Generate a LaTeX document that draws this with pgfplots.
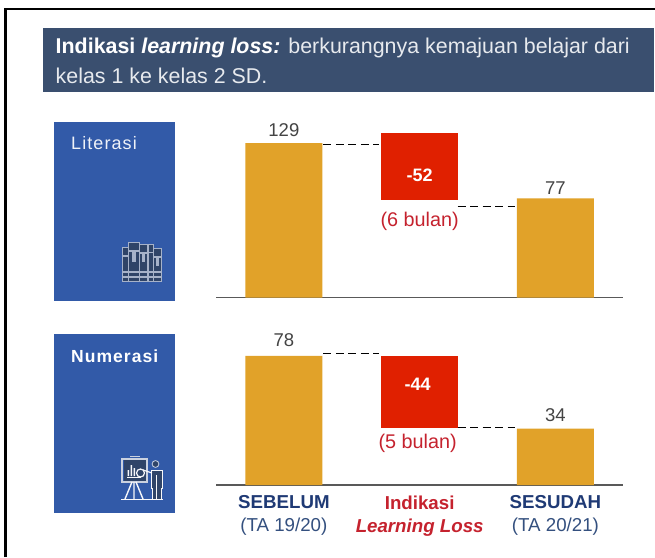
\documentclass[border=0pt]{standalone}
\usepackage{pgfplots}
\pgfplotsset{compat=1.18}
\usepackage{fontspec}
\setmainfont{Liberation Sans}
\definecolor{hdr}{HTML}{3A4F6F}
\definecolor{panel}{HTML}{325AA8}
\definecolor{gold}{HTML}{E1A229}
\definecolor{redbar}{HTML}{E02000}
\definecolor{redtxt}{HTML}{C5222E}
\definecolor{navy}{HTML}{1F3A75}
\definecolor{navyl}{HTML}{34507F}
\definecolor{numc}{HTML}{444444}
\definecolor{icl}{HTML}{A6B2C9}
\definecolor{icd}{HTML}{2F4468}
\newcommand{\fs}[1]{\fontsize{#1}{#1}\selectfont}
\pgfplotsset{wf/.style={
  scale only axis, width=407.3pt, xmin=-0.5, xmax=2.5, ymin=0, clip=false,
  axis x line=bottom, axis y line=none, x axis line style={-, line width=1.3pt, color=black!65},
  major tick length=0pt, ytick=\empty,
}, bars/.style={ybar stacked, bar width=77pt},
dsh/.style={black,line width=1pt,dash pattern=on 8pt off 4.5pt,no marks}}
\begin{document}
\begin{tikzpicture}
\path[use as bounding box] (0,0) rectangle (655pt,557pt);
\begin{scope}[x=1pt,y=-1pt,yshift=557pt]
  \fill[white] (0,0) rectangle (655,557);
  \draw[line width=2.6pt,black] (5.2,557) -- (5.2,9.2) -- (655,9.2);
  \fill[hdr] (43,28) rectangle (653.5,92);
  \node[anchor=base west,text=white,inner sep=0pt] at (55.5,53.5) {\fs{21.4}\textbf{Indikasi \textit{learning loss:}} \textcolor{white!88!hdr}{berkurangnya kemajuan belajar dari}};
  \node[anchor=base west,text=white!88!hdr,inner sep=0pt] at (55.5,83.5) {\fs{21.4}kelas 1 ke kelas 2 SD.};
  \fill[panel] (54,122.5) rectangle (174.5,301);
  \fill[panel] (54,333.7) rectangle (174.5,512.7);
  \node[anchor=base west,text=white!92!panel,inner sep=0pt] at (71,150) {\fs{18}\addfontfeature{LetterSpace=6}Literasi};
  \node[anchor=base west,text=white,inner sep=0pt] at (71,362) {\fs{17.5}\addfontfeature{LetterSpace=6}\textbf{Numerasi}};
  % book icon
  \foreach \xa/\xb/\yt in {122/128/248,128.5/139/243,139.5/147.5/245,148/153/244.5,153.5/161/249}{
    \fill[icd] (\xa,\yt) rectangle (\xb,282);
    \draw[icl,line width=1pt] (\xa,\yt) rectangle (\xb,282);
    \draw[icl,line width=1.2pt] (\xa,\yt+8) -- (\xb,\yt+8);
    \draw[icl,line width=1.2pt] (\xa,272) -- (\xb,272);
    \draw[icl,line width=1.2pt] (\xa,277) -- (\xb,277);
  }
  \fill[icl] (132,252) rectangle (136,262);
  \fill[icl] (142,252) rectangle (145,262);
  \fill[icl] (156,256) rectangle (159,266);
  % teaching icon
  \fill[icd] (124,460) rectangle (147,481);
  \draw[icl!60!white,line width=1.3pt] (122,459) rectangle (147,482);
  \draw[icl!60!white,line width=1.3pt] (121,458.5) -- (148,458.5);
  \draw[icl!60!white,line width=1.2pt] (130,456.5) -- (140,456.5);
  \draw[white!90!icl,line width=1pt] (127,477) -- (141,477);
  \fill[white!90!icl] (127.5,470) rectangle (129,476) (130.5,465) rectangle (132,476) (133.5,468) rectangle (135,476);
  \draw[white!90!icl,line width=1.2pt] (140.5,473) circle (4);
  \draw[white!90!icl,line width=1.4pt] (125,499) -- (132,482) (143,499) -- (136,482) (134,482) -- (134,499);
  \draw[white!90!icl,line width=1.2pt] (121,499.5) -- (163,499.5);
  \fill[icd] (155.5,464) circle (3.2);
  \draw[icl!60!white,line width=.8pt] (155.5,464) circle (3.4);
  \fill[icd] (151,470) rectangle (162,488);
  \draw[white!90!icl,line width=1pt] (151,470) rectangle (162,488);
  \fill[icd] (152,488) rectangle (161,499);
  \draw[white!90!icl,line width=1pt] (152,488) -- (152,499) (156.5,475) -- (156.5,499) (161,488) -- (161,499);
  \draw[white!90!icl,line width=1.2pt] (152,473) -- (143,470);
\end{scope}
% Literasi panel (drawn heights; the 129 bar is drawn shorter in the original)
\begin{axis}[wf, bars, at={(216pt,259.3pt)}, anchor=south west, height=170pt, ymax=131.8, xtick=\empty]
  \addplot[draw=none,fill=none] coordinates {(0,0) (1,76) (2,0)};
  \addplot[draw=none,fill=gold] coordinates {(0,119.8) (1,0) (2,77)};
  \addplot[draw=none,fill=redbar] coordinates {(0,0) (1,52) (2,0)};
\end{axis}
\begin{axis}[wf, at={(216pt,259.3pt)}, anchor=south west, height=170pt, ymax=131.8, xtick=\empty, hide axis]
  \addplot[dsh] coordinates {(0.29,118.4) (0.70,118.4)};
  \addplot[dsh] coordinates {(1.28,70.6) (1.70,70.6)};
  \node[text=numc,font=\fs{18.5}] at (axis cs:0,130) {129};
  \node[text=numc,font=\fs{18.5}] at (axis cs:2,85) {77};
  \node[text=white,font=\fs{18}\bfseries] at (axis cs:1,95) {-52};
  \node[text=redtxt,font=\fs{19.8}] at (axis cs:1,59) {(6 bulan)};
\end{axis}
% Numerasi panel
\begin{axis}[wf, bars, at={(216pt,72pt)}, anchor=south west, height=150pt, ymax=90.6,
  xtick={0,1,2},
  xticklabels={{\textcolor{navy}{\textbf{SEBELUM}}\\\textcolor{navyl}{(TA 19/20)}},
               {\textcolor{redtxt}{\textbf{Indikasi}}\\\textcolor{redtxt}{\textbf{\textit{Learning Loss}}}},
               {\textcolor{navy}{\textbf{SESUDAH}}\\\textcolor{navyl}{(TA 20/21)}}},
  xticklabel style={align=center,font=\fontsize{18.7}{23}\selectfont,yshift=-7pt},
]
  \addplot[draw=none,fill=none] coordinates {(0,0) (1,34.5) (2,0)};
  \addplot[draw=none,fill=gold] coordinates {(0,78) (1,0) (2,34)};
  \addplot[draw=none,fill=redbar] coordinates {(0,0) (1,43.5) (2,0)};
\end{axis}
\begin{axis}[wf, at={(216pt,72pt)}, anchor=south west, height=150pt, ymax=90.6, xtick=\empty, hide axis]
  \addplot[dsh] coordinates {(0.29,79.7) (0.70,79.7)};
  \addplot[dsh] coordinates {(1.28,35) (1.70,35)};
  \node[text=numc,font=\fs{18.5}] at (axis cs:0,87.6) {78};
  \node[text=numc,font=\fs{18.5}] at (axis cs:2,42.5) {34};
  \node[text=white,font=\fs{18}\bfseries] at (axis cs:0.985,61) {-44};
  \node[text=redtxt,font=\fs{19.8}] at (axis cs:0.985,25) {(5 bulan)};
\end{axis}
\end{tikzpicture}
\end{document}
